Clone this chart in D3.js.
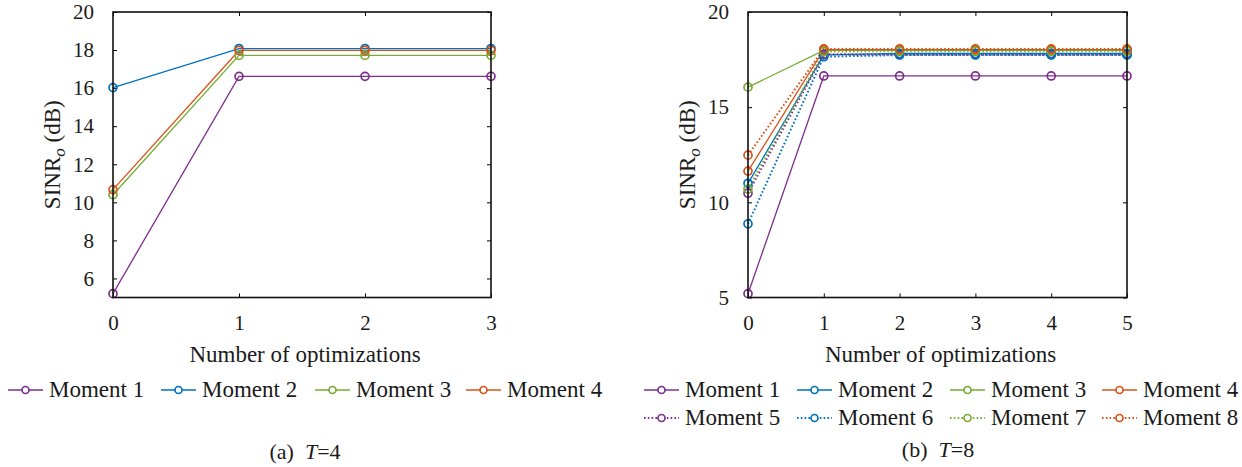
<!DOCTYPE html>
<html><head><meta charset="utf-8">
<script src="https://cdn.jsdelivr.net/npm/d3@7"></script>
<style>
body{margin:0;background:#fff;}
</style></head><body>
<svg id="c" width="1242" height="467"></svg>
<script>
// ---- data ----
const seriesNames = ["Moment 1","Moment 2","Moment 3","Moment 4","Moment 5","Moment 6","Moment 7","Moment 8"];
const colors = ["#7E2F8E","#0072BD","#77AC30","#D95319"];
// Panel (a) T=4
const xA = [0,1,2,3];
const a1 = [5.2,16.62,16.62,16.62];
const a2 = [16.03,18.08,18.08,18.08];
const a3 = [10.4,17.72,17.72,17.72];
const a4 = [10.67,17.98,17.98,17.98];
const yTicksA = [6,8,10,12,14,16,18,20];
// Panel (b) T=8
const xB = [0,1,2,3,4,5];
const b1 = [5.2,16.64,16.64,16.64,16.64,16.64];
const b2 = [11.0,17.75,17.82,17.82,17.82,17.82];
const b3 = [16.05,17.98,17.98,17.98,17.98,17.98];
const b4 = [11.64,18.02,18.02,18.02,18.02,18.02];
const b5 = [10.48,17.78,17.76,17.76,17.76,17.76];
const b6 = [8.87,17.65,17.74,17.74,17.74,17.74];
const b7 = [10.7,17.92,17.94,17.94,17.94,17.94];
const b8 = [12.48,18.06,18.06,18.06,18.06,18.06];
const yTicksB = [5,10,15,20];

const FONT = '"Liberation Serif","Times New Roman",serif';
const svg = d3.select("#c").attr("font-family", FONT);

function txt(sel){ return sel.style("font-family", FONT).attr("fill","#1a1a1a"); }

function panel(opt){
  const g = svg.append("g");
  const x = d3.scaleLinear().domain(opt.xDomain).range([opt.left, opt.right]);
  const y = d3.scaleLinear().domain([5,20]).range([opt.bottom, opt.top]);
  const tl = 4;
  const ax = g.append("g");
  ax.append("g").attr("transform",`translate(0,${opt.bottom})`)
    .call(d3.axisBottom(x).tickValues(opt.xs).tickSizeInner(-tl).tickSizeOuter(0).tickPadding(18).tickFormat(d3.format("d")));
  ax.append("g").attr("transform",`translate(0,${opt.top})`)
    .call(d3.axisTop(x).tickValues(opt.xs).tickSizeInner(-tl).tickSizeOuter(0).tickFormat(""));
  ax.append("g").attr("transform",`translate(${opt.left},0)`)
    .call(d3.axisLeft(y).tickValues(opt.yTicks).tickSizeInner(-tl).tickSizeOuter(0).tickPadding(19).tickFormat(d3.format("d")));
  ax.append("g").attr("transform",`translate(${opt.right},0)`)
    .call(d3.axisRight(y).tickValues(opt.yTicks).tickSizeInner(-tl).tickSizeOuter(0).tickFormat(""));
  ax.selectAll("g").attr("font-family", FONT);
  ax.selectAll(".domain").remove();
  ax.selectAll("line").attr("stroke","#000").attr("stroke-width",1);
  txt(ax.selectAll("text").attr("font-size",21));

  const line = d3.line().x((d,i)=>x(opt.xs[i])).y(d=>y(d));
  opt.series.forEach((s,k)=>{
    const col = colors[k%4];
    const dotted = k>=4;
    g.append("path").datum(s).attr("d",line).attr("fill","none")
      .attr("stroke",col).attr("stroke-width",dotted?2:1.3)
      .attr("stroke-dasharray",dotted?"1.6,2.2":null);
  });
  opt.series.forEach((s,k)=>{
    const col = colors[k%4];
    g.selectAll(null).data(s).enter().append("circle")
      .attr("cx",(d,i)=>x(opt.xs[i])).attr("cy",d=>y(d)).attr("r",4)
      .attr("fill","none").attr("stroke",col).attr("stroke-width",1.7);
  });
  g.append("rect").attr("x",opt.left).attr("y",opt.top)
    .attr("width",opt.right-opt.left).attr("height",opt.bottom-opt.top)
    .attr("fill","none").attr("stroke","#111").attr("stroke-width",1.6);

  txt(g.append("text").attr("x",(opt.left+opt.right)/2+3).attr("y",362)
    .attr("text-anchor","middle").attr("font-size",23).text("Number of optimizations"));
  const yl = txt(g.append("text").attr("transform",`translate(${opt.ylx},${(opt.top+opt.bottom)/2}) rotate(-90)`)
    .attr("text-anchor","middle").attr("font-size",23));
  yl.append("tspan").text("SINR");
  yl.append("tspan").attr("font-size",17).attr("font-style","italic").attr("dy",5).text("o");
  yl.append("tspan").attr("dy",-5).text(" (dB)");

  opt.legendPos.forEach((p,k)=>{
    const col = colors[k%4];
    const dotted = k>=4;
    const lg = g.append("g").attr("transform",`translate(${p[0]},${p[1]})`);
    lg.append("line").attr("x1",0).attr("x2",35).attr("y1",0).attr("y2",0)
      .attr("stroke",col).attr("stroke-width",dotted?2:1.3)
      .attr("stroke-dasharray",dotted?"1.6,2.2":null);
    lg.append("circle").attr("cx",17.5).attr("cy",0).attr("r",3.5)
      .attr("fill","#fff").attr("stroke",col).attr("stroke-width",1.7);
    txt(lg.append("text").attr("x",41).attr("y",7).attr("font-size",23).text(seriesNames[k]));
  });
  const cap = txt(g.append("text").attr("x",opt.capX).attr("y",opt.capY).attr("text-anchor","middle").attr("font-size",22));
  cap.append("tspan").text(opt.capLabel+"\u2002");
  cap.append("tspan").attr("font-style","italic").text("T");
  cap.append("tspan").text("="+opt.capT);
}

panel({xDomain:[0,3], xs:xA, left:113, right:491, top:12, bottom:297.5, yTicks:yTicksA,
  series:[a1,a2,a3,a4], ylx:60,
  legendPos:[[8,390],[161,390],[315,390],[466,390]],
  capX:305, capY:459, capLabel:"(a)", capT:"4"});
panel({xDomain:[0,5], xs:xB, left:748, right:1127, top:12, bottom:297.5, yTicks:yTicksB,
  series:[b1,b2,b3,b4,b5,b6,b7,b8], ylx:695,
  legendPos:[[644,390],[797,390],[950,390],[1102,390],[644,418],[797,418],[950,418],[1102,418]],
  capX:938, capY:457, capLabel:"(b)", capT:"8"});
</script></body></html>
